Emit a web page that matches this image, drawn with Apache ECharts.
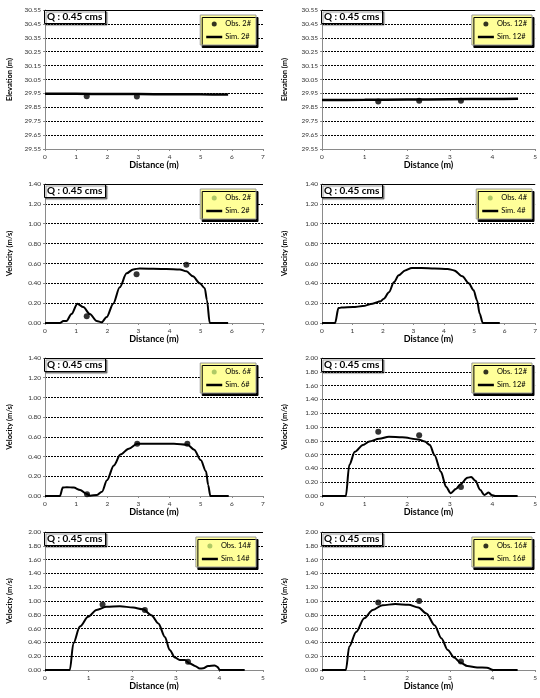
<!DOCTYPE html>
<html><head><meta charset="utf-8">
<script src="https://cdn.jsdelivr.net/npm/echarts@6/dist/echarts.min.js"></script>
<style>html,body{margin:0;padding:0;background:#fff}#c{width:540px;height:698px}</style>
</head><body><div id="c"></div>
<script>
// ---------- DATA ----------
const qLabel = 'Q : 0.45 cms';
const xName = 'Distance (m)';
const elevName = 'Elevation (m)';
const velName = 'Velocity (m/s)';

const elev2Sim = [[0,29.948],[1,29.947],[2,29.946],[3,29.945],[4,29.944],[5,29.943],[5.88,29.942]];
const elev2Obs = [[1.34,29.93],[2.95,29.928]];

const elev12Sim = [[0,29.902],[1,29.904],[2,29.906],[3,29.908],[4,29.910],[4.6,29.911]];
const elev12Obs = [[1.32,29.892],[2.28,29.897],[3.26,29.897]];

const vel2Sim = [[0,0],[0.48,0],[0.59,0.02],[0.69,0.02],[0.85,0.09],[1.04,0.195],[1.23,0.16],[1.44,0.09],[1.66,0.02],[1.82,0.007],[1.98,0.06],[2.19,0.195],[2.40,0.36],[2.62,0.50],[2.83,0.54],[3.04,0.55],[3.9,0.545],[4.33,0.54],[4.54,0.52],[4.75,0.47],[4.97,0.40],[5.13,0.35],[5.2,0.23],[5.29,0],[5.88,0]];
const vel2Obs = [[1.34,0.067],[2.94,0.49],[4.54,0.586]];

const vel4Sim = [[0,0],[0.43,0],[0.54,0.15],[0.64,0.155],[1.02,0.16],[1.34,0.17],[1.66,0.195],[1.93,0.22],[2.03,0.245],[2.2,0.31],[2.36,0.41],[2.52,0.48],[2.73,0.53],[2.95,0.555],[3.27,0.555],[3.7,0.55],[4.13,0.545],[4.34,0.53],[4.61,0.47],[4.82,0.40],[4.98,0.33],[5.09,0.23],[5.18,0.094],[5.28,0],[5.84,0]];
const vel4Obs = [];

const vel6Sim = [[0,0],[0.48,0],[0.57,0.085],[0.70,0.09],[0.92,0.085],[1.13,0.06],[1.32,0.024],[1.45,0.003],[1.67,0.01],[1.83,0.044],[1.99,0.16],[2.21,0.31],[2.42,0.42],[2.69,0.48],[2.96,0.53],[3.39,0.53],[4.14,0.53],[4.58,0.52],[4.79,0.47],[5.0,0.365],[5.17,0.25],[5.24,0.11],[5.31,0],[5.9,0]];
const vel6Obs = [[1.35,0.017],[2.96,0.53],[4.57,0.53]];

const vel12Sim = [[0,0],[0.56,0],[0.64,0.45],[0.77,0.64],[0.96,0.74],[1.11,0.79],[1.34,0.83],[1.57,0.86],[1.88,0.85],[2.26,0.82],[2.41,0.79],[2.53,0.74],[2.64,0.59],[2.79,0.35],[2.91,0.135],[3.02,0.04],[3.14,0.10],[3.25,0.17],[3.41,0.265],[3.5,0.275],[3.6,0.22],[3.71,0.09],[3.81,0.015],[3.91,0.05],[3.98,0.015],[4.06,0],[4.59,0]];
const vel12Obs = [[1.32,0.93],[2.28,0.88],[3.26,0.13]];

const vel14Sim = [[0,0],[0.57,0],[0.65,0.385],[0.8,0.63],[0.99,0.77],[1.18,0.87],[1.41,0.915],[1.72,0.925],[2.02,0.905],[2.25,0.88],[2.44,0.795],[2.6,0.675],[2.75,0.48],[2.86,0.29],[2.98,0.18],[3.09,0.145],[3.21,0.145],[3.32,0.096],[3.44,0.058],[3.55,0.02],[3.63,0.024],[3.74,0.058],[3.89,0.067],[3.95,0.048],[4.01,0],[4.58,0]];
const vel14Obs = [[1.32,0.95],[2.29,0.87],[3.28,0.12]];

const vel16Sim = [[0,0],[0.56,0],[0.64,0.34],[0.8,0.55],[0.99,0.75],[1.19,0.87],[1.42,0.94],[1.72,0.955],[2.03,0.945],[2.26,0.905],[2.45,0.82],[2.64,0.65],[2.8,0.46],[2.95,0.29],[3.1,0.18],[3.25,0.106],[3.41,0.058],[3.64,0.038],[3.87,0.034],[4.02,0],[4.59,0]];
const vel16Obs = [[1.32,0.98],[2.28,1.0],[3.26,0.125]];

// panel definitions (order: row by row, left then right)
const panels = [
  {sim: elev2Sim,  obs: elev2Obs,  simName: 'Sim. 2#',  obsName: 'Obs. 2#',  yName: elevName, yMin: 29.55, yMax: 30.55, yStep: 0.1, xMax: 7, green: false, elev: true},
  {sim: elev12Sim, obs: elev12Obs, simName: 'Sim. 12#', obsName: 'Obs. 12#', yName: elevName, yMin: 29.55, yMax: 30.55, yStep: 0.1, xMax: 5, green: false, elev: true},
  {sim: vel2Sim,   obs: vel2Obs,   simName: 'Sim. 2#',  obsName: 'Obs. 2#',  yName: velName,  yMin: 0, yMax: 1.4, yStep: 0.2, xMax: 7, green: true},
  {sim: vel4Sim,   obs: vel4Obs,   simName: 'Sim. 4#',  obsName: 'Obs. 4#',  yName: velName,  yMin: 0, yMax: 1.4, yStep: 0.2, xMax: 7, green: true},
  {sim: vel6Sim,   obs: vel6Obs,   simName: 'Sim. 6#',  obsName: 'Obs. 6#',  yName: velName,  yMin: 0, yMax: 1.4, yStep: 0.2, xMax: 7, green: true},
  {sim: vel12Sim,  obs: vel12Obs,  simName: 'Sim. 12#', obsName: 'Obs. 12#', yName: velName,  yMin: 0, yMax: 2.0, yStep: 0.2, xMax: 5, green: false},
  {sim: vel14Sim,  obs: vel14Obs,  simName: 'Sim. 14#', obsName: 'Obs. 14#', yName: velName,  yMin: 0, yMax: 2.0, yStep: 0.2, xMax: 5, green: true},
  {sim: vel16Sim,  obs: vel16Obs,  simName: 'Sim. 16#', obsName: 'Obs. 16#', yName: velName,  yMin: 0, yMax: 2.0, yStep: 0.2, xMax: 5, green: false}
];

// ---------- LAYOUT ----------
const cols = [{left: 45, width: 218, legendRight: 284, nameGap: 31}, {left: 322, width: 216, legendRight: 8, nameGap: 33}];
const rows = [{top: 10, h: 139}, {top: 184, h: 139}, {top: 358, h: 138}, {top: 532, h: 138}];
const FONT = 'Lato, "Open Sans", sans-serif';
const axisGray = '#8a8a8a';

const option = {animation: false, backgroundColor: '#fff', grid: [], xAxis: [], yAxis: [], series: [], title: [], legend: []};

panels.forEach((p, i) => {
  const c = cols[i % 2], r = rows[Math.floor(i / 2)];
  option.grid.push({left: c.left, top: r.top, width: c.width, height: r.h, containLabel: false});
  option.xAxis.push({
    gridIndex: i, type: 'value', min: 0, max: p.xMax, interval: 1,
    name: xName, nameLocation: 'middle', nameGap: 11,
    nameTextStyle: {fontFamily: FONT, fontSize: 9, fontWeight: 'bold', color: '#000'},
    axisLine: {show: true, lineStyle: {color: axisGray, width: 1}},
    axisTick: {show: true, length: 2, lineStyle: {color: axisGray}},
    axisLabel: {fontFamily: FONT, fontSize: 6.5, color: '#333', margin: 4},
    splitLine: {show: false}
  });
  option.yAxis.push({
    gridIndex: i, type: 'value', min: p.yMin, max: p.yMax, interval: p.yStep,
    name: p.yName, nameLocation: 'middle', nameGap: c.nameGap, nameRotate: 90,
    nameTextStyle: {fontFamily: FONT, fontSize: 7.5, fontWeight: 'bold', color: '#000'},
    axisLine: {show: true, lineStyle: {color: axisGray, width: 1}},
    axisTick: {show: true, length: 2, lineStyle: {color: axisGray}},
    axisLabel: {fontFamily: FONT, fontSize: 6.5, color: '#333', margin: 4, formatter: v => v.toFixed(2)},
    splitLine: {show: true, lineStyle: {color: '#000', width: 1.2, type: [2, 1]}}
  });
  option.series.push({
    name: p.simName, type: 'line', xAxisIndex: i, yAxisIndex: i, data: p.sim,
    symbol: 'none', smooth: 0.3, smoothMonotone: 'x',
    lineStyle: {color: '#000', width: p.elev ? 2.5 : 2}, itemStyle: {color: '#000'}, z: 3,
    markLine: {silent: true, symbol: 'none', label: {show: false}, lineStyle: {color: '#000', type: 'solid', width: 1.2},
      data: [{yAxis: p.yMax}]}
  });
  option.series.push({
    name: p.obsName, type: 'scatter', xAxisIndex: i, yAxisIndex: i, data: p.obs,
    symbol: 'circle', symbolSize: 6, itemStyle: {color: '#000'}, z: 4
  });
  option.title.push({
    text: qLabel, left: c.left - 1, top: r.top,
    padding: [1, 3, 1, 3], backgroundColor: '#fff', borderColor: '#000', borderWidth: 1,
    shadowColor: 'rgba(0,0,0,0.45)', shadowOffsetX: 1.5, shadowOffsetY: 1.5, shadowBlur: 1,
    textStyle: {fontFamily: FONT, fontSize: 10, fontWeight: 'bold', color: '#000', lineHeight: 12}
  });
  option.legend.push({
    orient: 'vertical', right: c.legendRight, top: r.top + 5,
    itemWidth: 16, itemHeight: 5, itemGap: 5, symbolKeepAspect: true,
    padding: [5, 5, 4, 6], backgroundColor: '#ffff99', borderColor: '#9a9a9a', borderWidth: 1,
    shadowColor: '#000', shadowOffsetX: 2, shadowOffsetY: 2.5, shadowBlur: 0,
    textStyle: {fontFamily: FONT, fontSize: 7.5, color: '#000', padding: [0, 0, 0, -2]},
    selectedMode: false,
    data: [
      {name: p.obsName, icon: 'circle', itemStyle: {color: p.green ? '#9bbb59' : '#000'}},
      {name: p.simName, icon: 'path://M0,0H16V2.5H0Z', itemStyle: {color: '#000'}}
    ]
  });
});

const chart = echarts.init(document.getElementById('c'), null, {renderer: 'canvas'});
chart.setOption(option);
</script>
</body></html>
